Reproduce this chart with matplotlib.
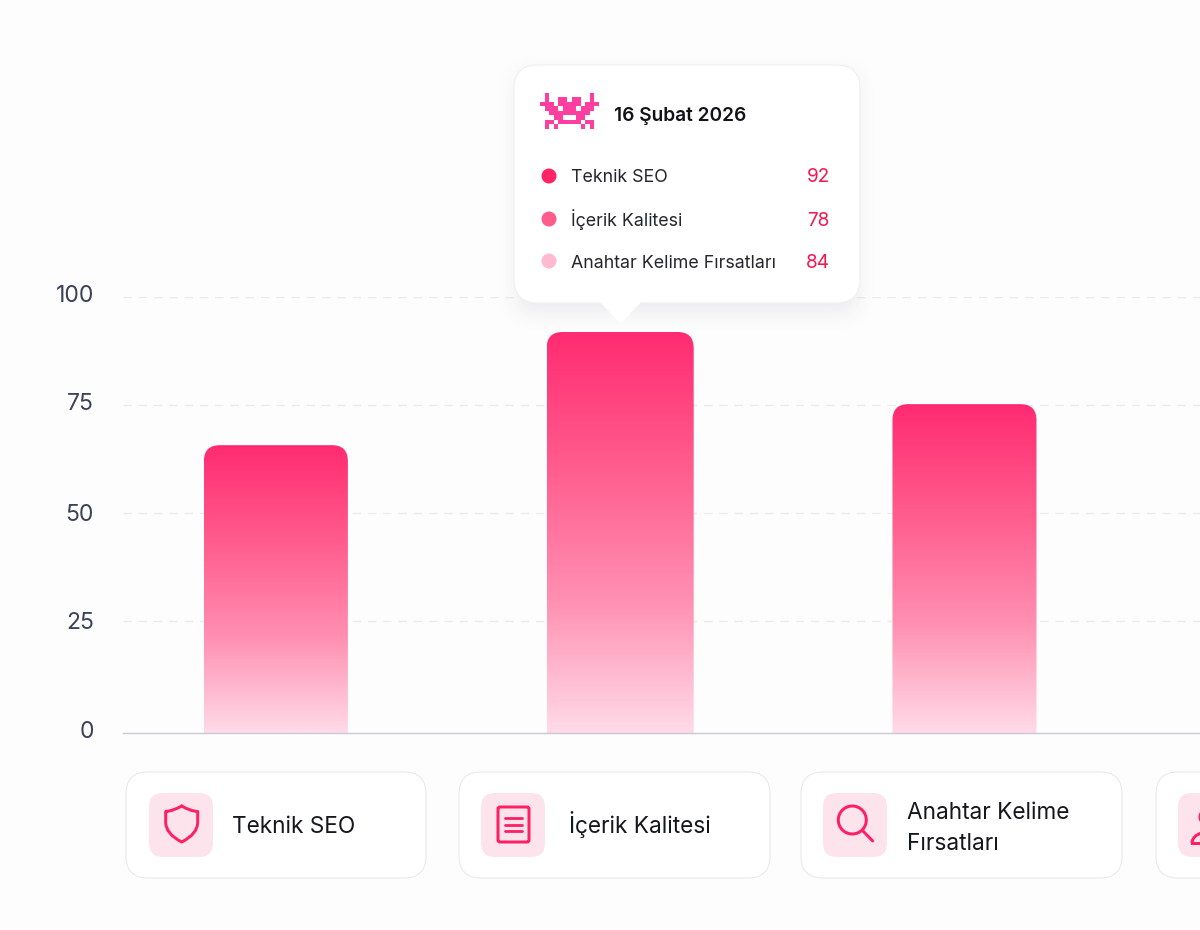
import numpy as np
import matplotlib
matplotlib.use('Agg')
import matplotlib.pyplot as plt
from matplotlib.colors import LinearSegmentedColormap, ListedColormap
from matplotlib.patches import FancyBboxPatch, PathPatch, Circle, Polygon, Arc
from matplotlib.path import Path
from matplotlib.transforms import ScaledTranslation

plt.rcParams['font.family'] = ['Inter', 'Noto Sans', 'DejaVu Sans']

# Data
bar_values = [65.7, 91.9, 75.2]
bar_positions = [0, 1, 2]
y_ticks = [0, 25, 50, 75, 100]
tip_date = '16 Şubat 2026'
tip_labels = ['Teknik SEO', 'İçerik Kalitesi', 'Anahtar Kelime Fırsatları']
tip_values = [92, 78, 84]
tip_colors = ['#ff2468', '#ff5c8d', '#ffb9d0']
card_labels = [['Teknik SEO'], ['İçerik Kalitesi'], ['Anahtar Kelime', 'Fırsatları']]

BG = '#fdfdfd'
STROKE = '#ff1f63'
W, H = 1200, 930


def px(v):
    # pixels to points at dpi 100
    return v * 72 / 100


fig = plt.figure(figsize=(W / 100, H / 100), dpi=100, facecolor=BG)

# Main chart axes, y=100 at pixel 297, baseline at pixel 733
ax = fig.add_axes([123 / W, 1 - 733 / H, (W - 123) / W, (733 - 297) / H], facecolor='none')
ax.set_xlim(-0.444, 2.684)
ax.set_ylim(-0.93, 100)
for s in ['top', 'right', 'left']:
    ax.spines[s].set_visible(False)
ax.spines['bottom'].set_color('#c9c9ce')
ax.spines['bottom'].set_linewidth(1)
ax.set_xticks([])
ax.set_yticks(y_ticks)
ax.tick_params(axis='y', length=0, pad=px(29), labelsize=px(23), labelcolor='#3b4157')
for v in y_ticks[1:]:
    ax.axhline(v, color='#ebebed', lw=1, dashes=(6, 5), zorder=1)

# the labels sit a little off their gridlines in the original
for lab, dy in zip(ax.get_yticklabels(), [-1, 0, 0, 3, 3]):
    lab.set_transform(lab.get_transform() + ScaledTranslation(0, dy / 100, fig.dpi_scale_trans))

# Gradient fill, clipped to bars with rounded top corners
grad = LinearSegmentedColormap.from_list('bar', ['#ffdbe7', '#ff8fb3', '#ff5c8d', '#ff2b72'])
bars = ax.bar(bar_positions, bar_values, width=0.42, bottom=0, color='none', zorder=2)
for rect, w_px in zip(bars, [144, 147, 144]):
    cx = rect.get_x() + rect.get_width() / 2
    hw = w_px / 344.25 / 2
    top = rect.get_height()
    rx, ry = 16 / 344.25, 16 / 4.32
    low = -0.93
    verts = [(cx - hw, low), (cx - hw, top - ry), (cx - hw, top), (cx - hw + rx, top),
             (cx + hw - rx, top), (cx + hw, top), (cx + hw, top - ry), (cx + hw, low), (cx - hw, low)]
    codes = [Path.MOVETO, Path.LINETO, Path.CURVE3, Path.CURVE3, Path.LINETO,
             Path.CURVE3, Path.CURVE3, Path.LINETO, Path.CLOSEPOLY]
    clip = PathPatch(Path(verts, codes), facecolor='none', edgecolor='none', transform=ax.transData)
    ax.add_patch(clip)
    im = ax.imshow(np.linspace(0, 1, 256)[:, None], cmap=grad, origin='lower', aspect='auto',
                   extent=(cx - hw, cx + hw, low, top), zorder=2, interpolation='bilinear')
    im.set_clip_path(clip)
ax.set_xlim(-0.444, 2.684)
ax.set_ylim(-0.93, 100)

# Overlay in pixel coordinates for the tooltip and the cards
ov = fig.add_axes([0, 0, 1, 1], facecolor='none')
ov.set_xlim(0, W)
ov.set_ylim(H, 0)
ov.axis('off')


def rbox(x0, y0, x1, y1, r, fc, ec='none', lw=0, alpha=None, z=3):
    p = FancyBboxPatch((x0, y0), x1 - x0, y1 - y0, boxstyle=f'round,pad=0,rounding_size={r}',
                       fc=fc, ec=ec, lw=lw, alpha=alpha, zorder=z)
    ov.add_patch(p)
    return p


# Tooltip shadow, a blurred box under the tooltip
sx0, sx1, sy0, sy1 = 470, 904, 30, 360
kernel = np.exp(-np.arange(-30, 31) ** 2 / (2 * 11.0 ** 2))
kernel /= kernel.sum()
col_x = np.convolve(((np.arange(sx0, sx1) >= 518) & (np.arange(sx0, sx1) < 856)).astype(float), kernel, mode='same')
col_y = np.convolve(((np.arange(sy0, sy1) >= 75) & (np.arange(sy0, sy1) < 311)).astype(float), kernel, mode='same')
shadow = np.zeros((sy1 - sy0, sx1 - sx0, 4))
shadow[..., :3] = (0.22, 0.22, 0.32)
shadow[..., 3] = 0.10 * np.outer(col_y, col_x)
ov.imshow(shadow, extent=(sx0, sx1, sy1, sy0), aspect='auto', interpolation='bilinear', zorder=5)
ov.set_xlim(0, W)
ov.set_ylim(H, 0)

rbox(514, 65, 860, 303, 24, '#ffffff', ec='#f0f0f2', lw=0.8, z=6)
ov.add_patch(Polygon([(600, 302), (641, 302), (620.5, 324)], closed=True, fc='#ffffff', ec='none', zorder=6.5))

# Pixel sprite
sprite = [
    '.X.........X.',
    '.X..XX.XX..X.',
    'XXX.XXXXX.XXX',
    '.XXX.XXX.XXX.',
    '..XXXXXXXXX..',
    '...XX...XX...',
    '.XX.XXXXX.XX.',
    '.X.X.....X.X.',
]
sprite = np.array([[c == 'X' for c in row] for row in sprite], dtype=float)
ov.imshow(sprite, cmap=ListedColormap(['#ffffff', '#ff3fa0']), extent=(540, 599, 129, 93), aspect='auto',
          interpolation='nearest', zorder=7)
ov.set_xlim(0, W)
ov.set_ylim(H, 0)

ov.text(614, 121, tip_date, fontsize=px(19.1), fontweight='semibold', color='#111318', va='baseline', zorder=7)
for y, lab, val, col in zip([176, 219, 261], tip_labels, tip_values, tip_colors):
    ov.add_patch(Circle((549, y), 7.5, fc=col, ec='none', zorder=7))
    ov.text(571, y + 6.5, lab, fontsize=px(17.8), color='#24262f', va='baseline', zorder=7)
    ov.text(830, y + 6.5, str(val), fontsize=px(19), color='#f5174f', va='baseline', ha='right', zorder=7)

# Category cards, the last one runs off the edge
cards = [(126, 426, 149), (459, 770, 481), (801, 1122, 823), (1156, 1300, 1178)]
for x0, x1, ix in cards:
    rbox(x0, 772, x1, 878, 22, '#ffffff', ec='#eaeaec', lw=0.8)
    rbox(ix, 793, ix + 64, 857, 14, '#fde4ec', z=4)
for tx, lines, bases in zip([232, 569, 907], card_labels, [[833], [833], [819, 850]]):
    for line, base in zip(lines, bases):
        ov.text(tx, base, line, fontsize=px(22.6), color='#15171f', va='baseline', zorder=5)

ic = dict(fc='none', ec=STROKE, lw=px(3), zorder=5, capstyle='round', joinstyle='round')

# Shield
shield = Path([(181.7, 806), (173, 811), (165.7, 811.5), (165.7, 822), (165.7, 834), (181.7, 842),
               (197.7, 834), (197.7, 822), (197.7, 811.5), (190, 811), (181.7, 806)],
              [Path.MOVETO, Path.CURVE3, Path.CURVE3, Path.LINETO, Path.CURVE3, Path.CURVE3,
               Path.CURVE3, Path.CURVE3, Path.LINETO, Path.CURVE3, Path.CURVE3])
ov.add_patch(PathPatch(shield, **ic))

# Document
rbox(498, 807, 529, 842, 2, 'none', ec=STROKE, lw=px(3), z=5)
for y in [818, 824.5, 831]:
    ov.plot([504.5, 522], [y, y], color=STROKE, lw=px(2.8), solid_capstyle='round', zorder=5)

# Magnifier
ov.add_patch(Circle((852.3, 820), 14, **ic))
ov.plot([862.7, 872.7], [830.7, 841], color=STROKE, lw=px(3), solid_capstyle='round', zorder=5)

# Person, cut by the figure edge
ov.add_patch(Circle((1208, 817), 8, **ic))
ov.add_patch(Arc((1208, 843), 32, 22, theta1=180, theta2=360, ec=STROKE, lw=px(3), zorder=5))
ov.plot([1192, 1224], [843, 843], color=STROKE, lw=px(3), zorder=5)

fig.savefig('out.png', dpi=100, facecolor=BG)
